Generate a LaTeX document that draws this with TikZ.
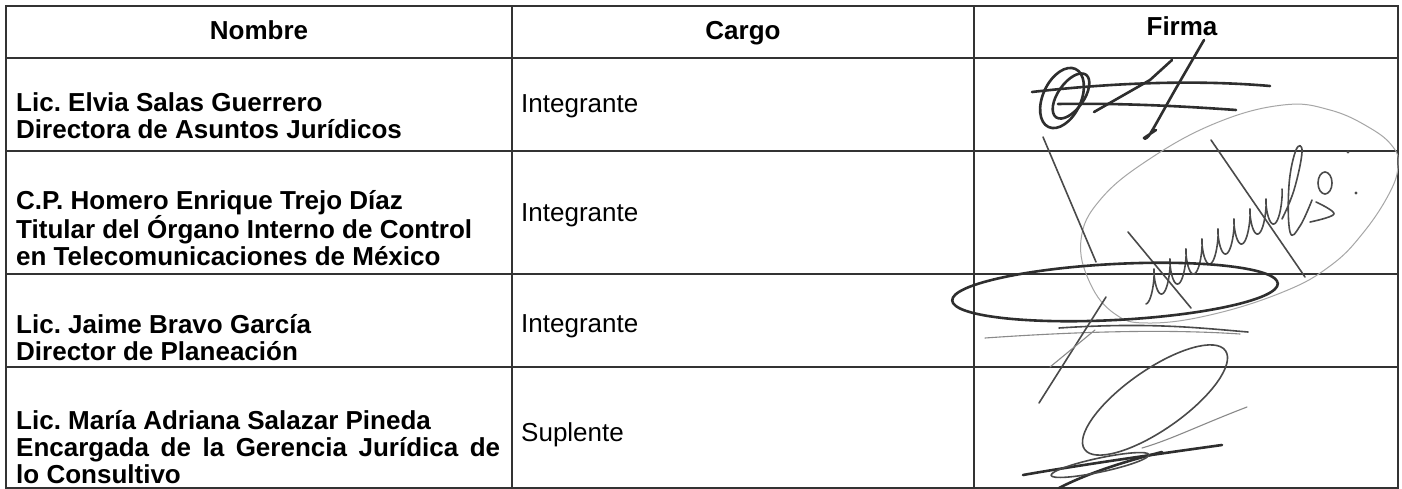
\documentclass[tikz,border=0pt]{standalone}
\usepackage{fontspec}
\setmainfont{Liberation Sans}
\definecolor{inkdark}{HTML}{2E2E2E}
\definecolor{inkmid}{HTML}{4A4A4A}
\definecolor{inklight}{HTML}{8A8A8A}
\begin{document}
\frenchspacing
\begin{tikzpicture}[
	x=1pt, y=-1pt,
	head/.style={inner sep=0pt, anchor=base, font=\bfseries\fontsize{26}{27}\selectfont},
	namecell/.style={inner sep=0pt, anchor=west, align=left, font=\bfseries\fontsize{26}{27}\selectfont},
	rolecell/.style={inner sep=0pt, anchor=base west, font=\fontsize{26}{27}\selectfont},
	rule/.style={line width=1.8pt, black!80},
	ink/.style={line width=2.6pt, draw=inkdark, line cap=round, line join=round},
	pen/.style={line width=1.6pt, draw=inkmid, line cap=round, line join=round},
	faint/.style={line width=1.1pt, draw=inklight, line cap=round},
	seal/.style={line width=1pt, draw=black!35}
	]
	
	%-----------------------
	% Table geometry
	%-----------------------
	\def\ytop{6}     % top rule
	\def\yhead{58}   % below header
	\def\yone{151}   % below row 1
	\def\ytwo{274}   % below row 2
	\def\ythree{367} % below row 3
	\def\ybot{488}   % bottom rule
	\def\xl{6}       % left rule
	\def\xc{512}     % Nombre | Cargo
	\def\xf{974}     % Cargo | Firma
	\def\xr{1398}    % right rule
	
	\fill[white] (0,0) rectangle (1402,489);
	\useasboundingbox (0,0) rectangle (1402,489);
	
	%-----------------------
	% Rules
	%-----------------------
	\draw[rule] (\xl,\ytop) rectangle (\xr,\ybot);
	\draw[rule] (\xl,\yhead) -- (\xr,\yhead);
	\draw[rule] (\xl,\yone) -- (\xr,\yone);
	\draw[rule] (\xl,\ytwo) -- (\xr,\ytwo);
	\draw[rule] (\xl,\ythree) -- (\xr,\ythree);
	\draw[rule] (\xc,\ytop) -- (\xc,\ybot);
	\draw[rule] (\xf,\ytop) -- (\xf,\ybot);
	
	%-----------------------
	% Header
	%-----------------------
	\node[head] (hNombre) at (259,40) {Nombre};
	\node[head] (hCargo) at (743,40) {Cargo};
	\node[head] (hFirma) at (1182,36) {Firma};
	
	%-----------------------
	% Nombre column
	%-----------------------
	\node[namecell] (n1) at (16,116) {Lic. Elvia Salas Guerrero\\Directora de Asuntos Jurídicos};
	\node[namecell] (n2) at (16,228) {C.P. Homero Enrique Trejo Díaz\\Titular del Órgano Interno de Control\\en Telecomunicaciones de México};
	\node[namecell] (n3) at (16,338) {Lic. Jaime Bravo García\\Director de Planeación};
	\node[namecell] (n4) at (16,447) {Lic. María Adriana Salazar Pineda\\\makebox[484pt][s]{Encargada de la Gerencia Jurídica de}\\lo Consultivo};
	
	%-----------------------
	% Cargo column
	%-----------------------
	\node[rolecell] (c1) at (521,113) {Integrante};
	\node[rolecell] (c2) at (521,222) {Integrante};
	\node[rolecell] (c3) at (521,332) {Integrante};
	\node[rolecell] (c4) at (521,441) {Suplente};
	
	%-----------------------
	% Firma column: seal outline
	%-----------------------
	\draw[seal] plot[smooth cycle, tension=0.7] coordinates {(1283,105) (1330,110) (1370,128) (1393,147) (1398,165) (1390,192) (1363,233) (1330,266) (1283,292) (1210,315) (1148,323) (1115,314) (1090,283) (1081,240) (1100,200) (1148,160) (1216,123)};
	
	% signature, row 1
	\draw[ink, rotate around={-25:(1062,98)}] (1062,98) ellipse [x radius=19, y radius=32];
	\draw[ink, rotate around={-35:(1071,96)}] (1071,96) ellipse [x radius=13, y radius=26];
	\draw[ink] (1032,92) .. controls (1120,82) and (1200,80) .. (1270,86);
	\draw[ink] (1058,104) .. controls (1120,103) and (1180,106) .. (1236,110);
	\draw[ink] (1094,112) -- (1150,80) -- (1172,60);
	\draw[ink] plot[smooth, tension=0.5] coordinates {(1204,40) (1175,90) (1150,134) (1144,138) (1156,130)};
	
	% signature, row 2
	\draw[pen] (1043,137) -- (1096,262);
	\draw[pen] (1128,232) -- (1191,308);
	\draw[pen] (1211,140) -- (1305,277);
	\draw[pen] plot[smooth, domain=0:8.5, samples=240] ({1146+16*\x+3*sin(360*\x)}, {304-10*\x-15*(1-cos(360*\x))});
	\draw[pen] plot[smooth, tension=0.7] coordinates {(1282,219) (1294,190) (1302,152) (1296,150) (1289,185) (1290,232) (1300,226) (1312,200)};
	\draw[pen] (1325,183) ellipse [x radius=7, y radius=11];
	\draw[pen] plot[smooth, tension=0.6] coordinates {(1316,202) (1334,214) (1310,222)};
	\fill[inkmid] (1348,152) circle (1.6);
	\fill[inkmid] (1356,193) circle (1.6);
	
	% signature, row 3
	\draw[ink, rotate around={3:(1115,292)}] (1115,292) ellipse [x radius=163, y radius=28];
	\draw[faint] (985,338) .. controls (1100,330) and (1180,330) .. (1240,334);
	\draw[pen] (1059,328) .. controls (1150,322) and (1200,328) .. (1248,332);
	\draw[pen] (1106,297) -- (1039,403);
	\draw[faint] (1095,330) -- (1050,367);
	
	% signature, row 4
	\draw[pen, rotate around={35:(1155,400)}] (1155,400) ellipse [x radius=86, y radius=30];
	\draw[faint] (1247,407) .. controls (1200,425) and (1170,440) .. (1142,448);
	\draw[ink] (1222,445) .. controls (1150,455) and (1080,465) .. (1023,475);
	\draw[ink] (1059,488) .. controls (1090,472) and (1130,460) .. (1162,452);
	\draw[pen, rotate around={12:(1100,465)}] (1100,465) ellipse [x radius=50, y radius=7];
	
\end{tikzpicture}
\end{document}
